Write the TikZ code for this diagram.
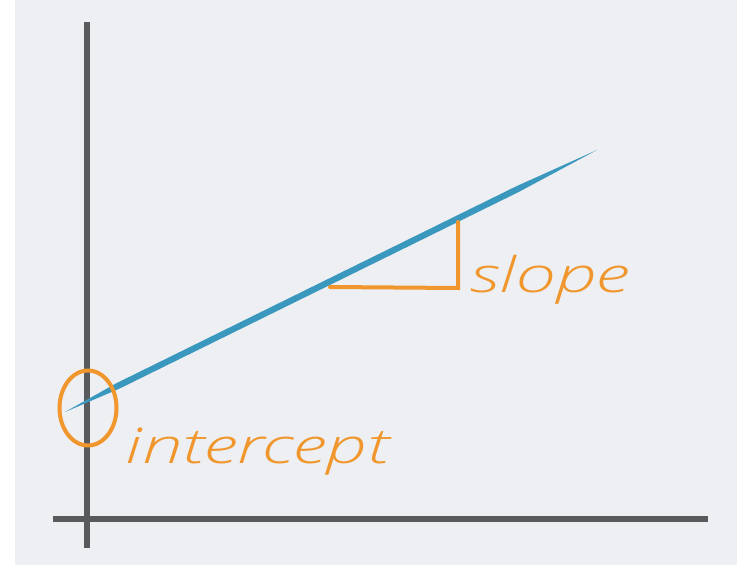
\documentclass[tikz,border=0pt]{standalone}
\usepackage{fontspec}
\usetikzlibrary{shapes.geometric}
\setmainfont{Open Sans}
\newfontfamily\handfont{Open Sans Light Italic}
\definecolor{bg}{HTML}{EDEFF2}
\definecolor{axisgray}{HTML}{595A5C}
\definecolor{lineblue}{HTML}{3A98BF}
\definecolor{hlorange}{HTML}{F0962C}
\tikzset{
  axisline/.style={draw=axisgray,line width=6pt},
  orangeline/.style={draw=hlorange,line width=4pt},
  handtext/.style={text=hlorange,font=\fontsize{49}{52}\selectfont\handfont, inner sep=0pt, anchor=base west, xscale=1.48},
}
\begin{document}
\begin{tikzpicture}[x=1pt,y=-1pt]
\useasboundingbox (0,0) rectangle (737,565);
\fill[white] (0,0) rectangle (737,565);
\fill[bg] (15,0) rectangle (737,565);
% axes
\coordinate (ytop) at (87,22);
\coordinate (ybot) at (87,548);
\coordinate (xl) at (53,519);
\coordinate (xr) at (708,519);
\draw[axisline] (ytop) -- (ybot);
\draw[axisline] (xl) -- (xr);
% regression line (tapered stroke)
\coordinate (ls) at (65,412);
\coordinate (le) at (597,150);
\fill[lineblue] (ls) -- (117.0,382.9) -- (516.0,186.4) -- (le) -- (518.5,192.1) -- (119.5,388.6) -- cycle;
% intercept circle
\node[draw=hlorange,line width=4pt,ellipse,minimum width=57pt,minimum height=75pt,inner sep=0pt] (circ) at (88,408) {};
% slope triangle
\coordinate (ta) at (330,287);
\coordinate (tb) at (458,288);
\coordinate (tc) at (458,222);
\draw[orangeline,line cap=round] (ta) -- (tb) -- (tc);
% labels
\node[handtext] (slope) at (470,292) {slope};
\node[handtext] (intercept) at (125,463) {intercept};
\end{tikzpicture}
\end{document}
